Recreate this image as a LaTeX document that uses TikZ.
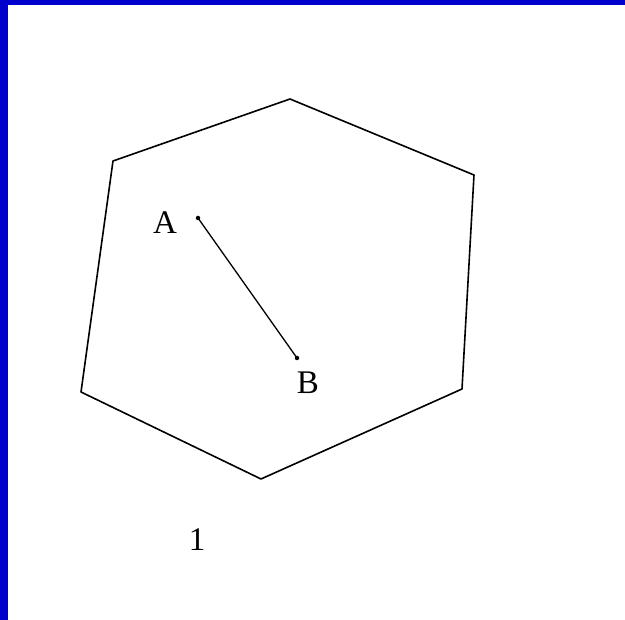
\documentclass[tikz,border=0pt]{standalone}
\usepackage{fontspec}
\setmainfont{Liberation Serif}
\usepackage{xcolor}
\definecolor{frameblue}{HTML}{0000CC}

\begin{document}
\begin{tikzpicture}[x=1pt, y=-1pt, font=\fontsize{33}{36}\selectfont,
edge/.style={line width=1.6pt, line join=round},
pt/.style={circle,fill,inner sep=0pt,minimum size=4.5pt},
lbl/.style={inner sep=0pt}]
\useasboundingbox (0,0) rectangle (625,620);
\fill[frameblue] (0,0) rectangle (625,5);
\fill[frameblue] (0,0) rectangle (8,620);
% hexagon
\coordinate (top) at (290,99);
\coordinate (ur) at (474,175);
\coordinate (lr) at (462,389);
\coordinate (bot) at (261,479);
\coordinate (ll) at (81,392);
\coordinate (ul) at (113,161);
\draw[edge] (top)--(ur)--(lr)--(bot)--(ll)--(ul)--cycle;
% segment AB
\node[pt] (a) at (198,218) {};
\node[pt] (b) at (297,358) {};
\draw[line width=1.3pt] (a.center)--(b.center);
\node[lbl] (alabel) at (165,223) {A};
\node[lbl] (blabel) at (308,383) {B};
\node[lbl] (num) at (197,540) {1};
\end{tikzpicture}
\end{document}
